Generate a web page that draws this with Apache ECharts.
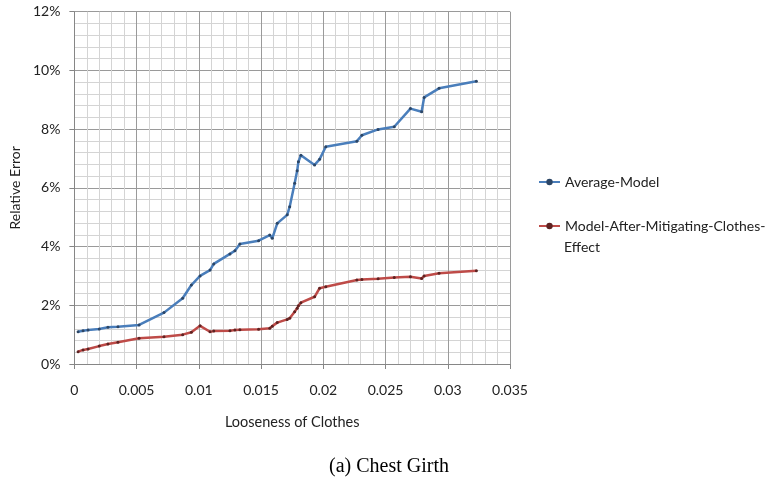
<!DOCTYPE html>
<html>
<head>
<meta charset="utf-8">
<script src="https://cdn.jsdelivr.net/npm/echarts@6/dist/echarts.min.js"></script>
<style>
html,body{margin:0;padding:0;background:#fff;}
#chart{width:778px;height:480px;}
</style>
</head>
<body>
<div id="chart"></div>
<script>
// Looseness of clothes (x values)
const looseness = [0.0003,0.0007,0.0011,0.0020,0.0027,0.0035,0.0052,0.0072,0.0087,0.0094,0.0101,0.0109,0.0112,0.0125,0.0129,0.0133,0.0148,0.0157,0.0159,0.0163,0.0171,0.0173,0.0177,0.0179,0.0180,0.0182,0.0193,0.0197,0.0202,0.0227,0.0231,0.0244,0.0257,0.0270,0.0279,0.0281,0.0293,0.0323];
// Relative error (%) - Average-Model
const averageModel = [1.10,1.13,1.16,1.19,1.25,1.27,1.33,1.75,2.24,2.69,3.00,3.20,3.41,3.75,3.86,4.09,4.20,4.39,4.28,4.79,5.08,5.36,6.16,6.58,6.89,7.11,6.78,6.97,7.40,7.59,7.79,7.99,8.08,8.70,8.59,9.08,9.39,9.63];
// Relative error (%) - Model-After-Mitigating-Clothes-Effect
const mitigatedModel = [0.42,0.48,0.51,0.61,0.68,0.74,0.88,0.93,1.00,1.08,1.30,1.10,1.12,1.13,1.16,1.17,1.18,1.22,1.29,1.41,1.52,1.56,1.78,1.90,1.98,2.09,2.29,2.58,2.63,2.86,2.88,2.90,2.95,2.97,2.91,3.00,3.09,3.18];
const seriesNames = ['Average-Model','Model-After-Mitigating-Clothes-Effect'];
const xTitle = 'Looseness of Clothes';
const yTitle = 'Relative Error';
const caption = '(a) Chest Girth';

const FONT = 'Lato';
const chart = echarts.init(document.getElementById('chart'), null, {renderer:'canvas'});
const pairs = (xs, ys) => xs.map((x,i)=>[x, ys[i]]);

chart.setOption({
  animation:false,
  backgroundColor:'#fff',
  textStyle:{fontFamily:FONT},
  grid:{left:71,right:268,top:11.7,bottom:116,containLabel:false},
  xAxis:{
    type:'value',min:0,max:0.035,interval:0.005,
    name:xTitle,nameLocation:'middle',nameGap:51,
    nameTextStyle:{fontFamily:FONT,fontSize:14.5,color:'#222'},
    axisLine:{show:true,onZero:false,lineStyle:{color:'#868686',width:1}},
    axisTick:{show:true,length:5,lineStyle:{color:'#868686'}},
    axisLabel:{fontFamily:FONT,fontSize:14,color:'#222',margin:19,
      formatter:v=>String(+v.toFixed(3))},
    splitLine:{show:true,lineStyle:{color:'#9a9a9a',width:1}},
    minorTick:{show:false,splitNumber:5},
    minorSplitLine:{show:true,lineStyle:{color:'#d4d4d4',width:1}}
  },
  yAxis:{
    type:'value',min:0,max:12,interval:2,
    name:yTitle,nameLocation:'middle',nameGap:52,nameRotate:90,
    nameTextStyle:{fontFamily:FONT,fontSize:14,color:'#222'},
    axisLine:{show:true,lineStyle:{color:'#868686',width:1}},
    axisTick:{show:true,length:5,lineStyle:{color:'#868686'}},
    axisLabel:{fontFamily:FONT,fontSize:14,color:'#222',margin:14,formatter:'{value}%'},
    splitLine:{show:true,lineStyle:{color:'#9a9a9a',width:1}},
    minorTick:{show:false,splitNumber:5},
    minorSplitLine:{show:true,lineStyle:{color:'#d4d4d4',width:1}}
  },
  legend:{
    orient:'vertical',left:538,top:174,itemWidth:21,itemHeight:8,itemGap:28,padding:0,
    textStyle:{fontFamily:FONT,fontSize:14,color:'#222',lineHeight:16},
    formatter:n=> n==='Model-After-Mitigating-Clothes-Effect' ? 'Model-After-Mitigating-Clothes-' : n,
    data:seriesNames
  },
  graphic:[
    {type:'text',left:564,top:240,style:{text:'Effect',font:'14px '+FONT,fill:'#222'}},
    {type:'text',left:'center',top:457,style:{text:caption,font:'20px "Liberation Serif"',fill:'#000'}}
  ],
  series:[
    {name:seriesNames[0],type:'line',data:pairs(looseness,averageModel),
     symbol:'circle',symbolSize:3,showSymbol:true,
     lineStyle:{color:'#4A7EBB',width:2.5},itemStyle:{color:'#2c4666'}},
    {name:seriesNames[1],type:'line',data:pairs(looseness,mitigatedModel),
     symbol:'circle',symbolSize:3,showSymbol:true,
     lineStyle:{color:'#BE4B48',width:2.5},itemStyle:{color:'#5e2322'}}
  ]
});
</script>
</body>
</html>
